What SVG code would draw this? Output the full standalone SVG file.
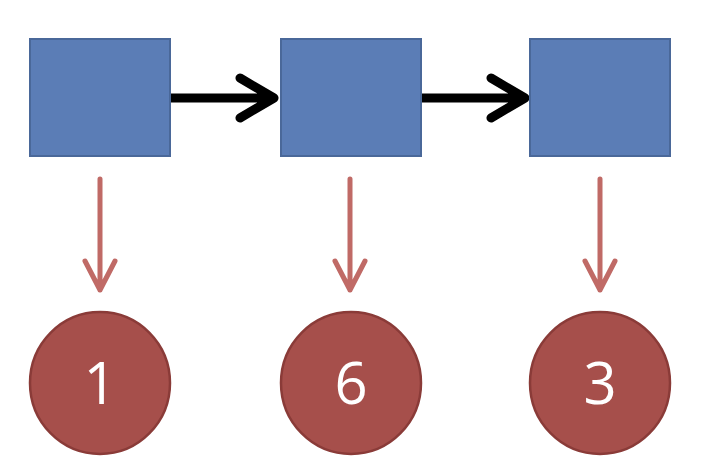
<svg xmlns="http://www.w3.org/2000/svg" width="704" height="472" viewBox="0 0 704 472">
<style>
.box{fill:#5b7db6;stroke:#4a6899;stroke-width:2}
.val{fill:#a64f4b;stroke:#8a3b38;stroke-width:2.5}
.lbl{font-family:"Open Sans","Liberation Sans",sans-serif;font-size:58px;fill:#ffffff;text-anchor:middle}
.next{stroke:#000;stroke-width:9;fill:none;stroke-linecap:round;stroke-linejoin:round}
.ref{stroke:#c06a66;stroke-width:5;fill:none;stroke-linecap:round;stroke-linejoin:round}
</style>
<rect width="704" height="472" fill="#ffffff"/>
<g id="connectors">
<path class="next" d="M171 98 H272 M240 78 L274 98 L240 118"/>
<path class="next" d="M422 98 H523 M491 78 L525 98 L491 118"/>
<path class="ref" d="M100 179 V290 M85 261 L100 290 L115 261"/>
<path class="ref" d="M350 179 V290 M335 261 L350 290 L365 261"/>
<path class="ref" d="M600 179 V290 M585 261 L600 290 L615 261"/>
</g>
<g id="box1"><rect class="box" x="30" y="39" width="140" height="117"/></g>
<g id="box2"><rect class="box" x="281" y="39" width="140" height="117"/></g>
<g id="box3"><rect class="box" x="530" y="39" width="140" height="117"/></g>
<g id="val1"><ellipse class="val" cx="100" cy="383" rx="70" ry="71"/><text class="lbl" x="100" y="404">1</text></g>
<g id="val6"><ellipse class="val" cx="351" cy="383" rx="70" ry="71"/><text class="lbl" x="351" y="404">6</text></g>
<g id="val3"><ellipse class="val" cx="600" cy="383" rx="70" ry="71"/><text class="lbl" x="600" y="404">3</text></g>
</svg>
